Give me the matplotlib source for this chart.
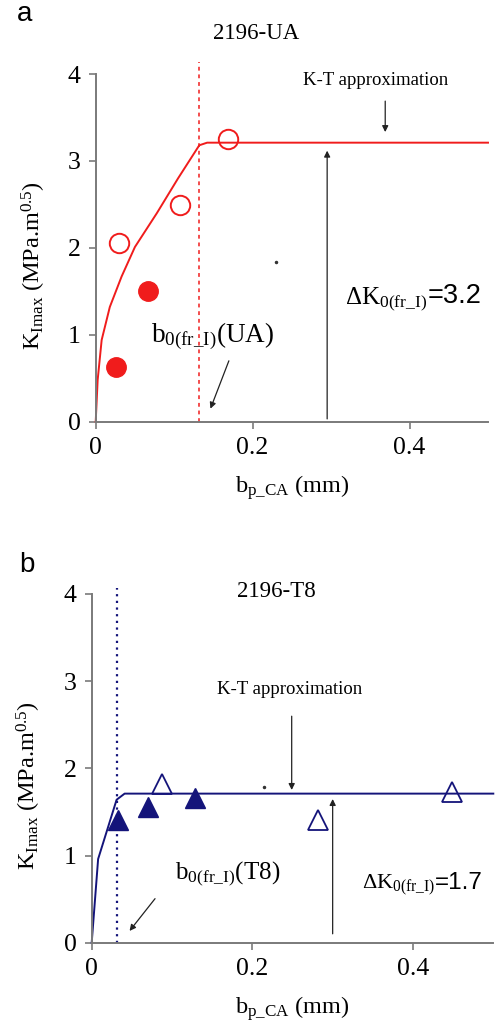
import matplotlib
matplotlib.use("Agg")
import matplotlib.pyplot as plt

plt.rcParams['font.family'] = ['Liberation Serif', 'DejaVu Serif']
plt.rcParams['mathtext.fontset'] = 'custom'
plt.rcParams['mathtext.rm'] = 'Liberation Serif'
plt.rcParams['mathtext.it'] = 'Liberation Serif:italic'
plt.rcParams['mathtext.sf'] = 'Liberation Sans'

# 2196-UA data
ua_open_x = [0.030, 0.108, 0.169]
ua_open_y = [2.05, 2.49, 3.25]
ua_fill_x = [0.026, 0.067]
ua_fill_y = [0.63, 1.50]
ua_curve_x = [0, 0.0025, 0.0076, 0.018, 0.033, 0.05, 0.078, 0.105, 0.132, 0.142, 0.5]
ua_curve_y = [0, 0.48, 0.94, 1.32, 1.67, 2.01, 2.40, 2.80, 3.18, 3.21, 3.21]
ua_b0 = 0.132
ua_dk = 3.2

# 2196-T8 data
t8_open_x = [0.088, 0.282, 0.448]
t8_open_y = [1.82, 1.41, 1.73]
t8_fill_x = [0.033, 0.070, 0.128]
t8_fill_y = [1.41, 1.56, 1.66]
t8_curve_x = [0, 0.008, 0.031, 0.041, 0.5]
t8_curve_y = [0, 0.96, 1.64, 1.71, 1.71]
t8_b0 = 0.032
t8_dk = 1.7

red = '#f01c1c'
navy = '#14147a'
spine_col = '#7a7a7a'

fig = plt.figure(figsize=(5, 10.25), dpi=100)
ax1 = fig.add_axes([0.1914, 0.5886, 0.7846, 0.3392])
ax2 = fig.add_axes([0.1834, 0.0803, 0.8032, 0.3402])


def style(ax):
    ax.set_xlim(0, 0.5)
    ax.set_ylim(0, 4)
    ax.set_xticks([0, 0.2, 0.4])
    ax.set_xticklabels(['0', '0.2', '0.4'])
    ax.set_yticks([0, 1, 2, 3, 4])
    for s in ['top', 'right']:
        ax.spines[s].set_visible(False)
    for s in ['left', 'bottom']:
        ax.spines[s].set_color(spine_col)
        ax.spines[s].set_linewidth(1.4)
    ax.tick_params(direction='out', length=5, width=1.2, color=spine_col,
                   labelsize=18.5, pad=6)
    ax.set_xlabel(r'b$_{\mathrm{p\_CA}}$ (mm)', fontsize=17.5, labelpad=10)
    ax.set_ylabel(r'K$_{\mathrm{Imax}}$ (MPa.m$^{0.5}$)', fontsize=17.5)
    ax.yaxis.set_label_coords(-0.122, 0.45)


def dk_label(ax, x, y, value, size):
    # serif Delta K with subscript, then the value in sans
    t = ax.text(x, y, r'$\Delta\mathrm{K}_{0(\mathrm{fr\_I})}$', fontsize=size,
                ha='left', va='baseline')
    ax.annotate('=%.1f' % value, xy=(1, y), xycoords=(t, 'data'),
                fontsize=size + 1.5, family='Liberation Sans',
                ha='left', va='baseline')


arrow = dict(arrowstyle='-|>', color='#222222', lw=0.9, mutation_scale=9)

# panel a
style(ax1)
ax1.plot(ua_curve_x, ua_curve_y, color=red, lw=1.4, clip_on=False)
ax1.plot([ua_b0, ua_b0], [0, 4.14], color=red, lw=1.1, ls=(0, (2.5, 2.5)), clip_on=False)
ax1.plot(ua_open_x, ua_open_y, 'o', ms=14, mfc='none', mec=red, mew=1.4, clip_on=False)
ax1.plot(ua_fill_x, ua_fill_y, 'o', ms=14, mfc=red, mec=red)
ax1.plot([0.23], [1.84], 'o', ms=1.5, color='#333333')
ax1.text(0.205, 4.47, '2196-UA', fontsize=16.5, ha='center', va='center')
ax1.annotate('', xy=(0.369, ua_dk + 0.1), xytext=(0.369, 3.72), arrowprops=arrow)
ax1.text(0.357, 3.92, 'K-T approximation', fontsize=13.5, ha='center', va='center')
ax1.annotate('', xy=(0.295, ua_dk - 0.05), xytext=(0.295, 0), arrowprops=arrow)
dk_label(ax1, 0.318, 1.36, ua_dk, 18)
ax1.text(0.071, 0.98, r'$\mathrm{b}_{0(\mathrm{fr\_I})}\mathrm{(UA)}$', fontsize=19.5,
         ha='left', va='center')
ax1.annotate('', xy=(0.145, 0.12), xytext=(0.171, 0.73), arrowprops=arrow)
fig.text(0.05, 0.986, 'a', fontsize=20, family='Liberation Sans', ha='center', va='center')

# panel b
style(ax2)
ax2.plot(t8_curve_x, t8_curve_y, color=navy, lw=1.4, clip_on=False)
ax2.plot([t8_b0, t8_b0], [0, 4.07], color=navy, lw=1.6, ls=(0, (1, 2)), clip_on=False)
ax2.plot(t8_open_x, t8_open_y, '^', ms=15, mfc='none', mec=navy, mew=1.3)
ax2.plot(t8_fill_x, t8_fill_y, '^', ms=15, mfc=navy, mec=navy)
ax2.plot([0.214], [1.79], 'o', ms=1.5, color='#333333')
ax2.text(0.23, 4.03, '2196-T8', fontsize=16.5, ha='center', va='center')
ax2.annotate('', xy=(0.249, t8_dk + 0.02), xytext=(0.249, 2.63), arrowprops=arrow)
ax2.text(0.247, 2.90, 'K-T approximation', fontsize=13.5, ha='center', va='center')
ax2.annotate('', xy=(0.30, t8_dk - 0.02), xytext=(0.30, 0.07), arrowprops=arrow)
dk_label(ax2, 0.336, 0.62, t8_dk, 16)
ax2.text(0.104, 0.79, r'$\mathrm{b}_{0(\mathrm{fr\_I})}\mathrm{(T8)}$', fontsize=18,
         ha='left', va='center')
ax2.annotate('', xy=(0.045, 0.11), xytext=(0.081, 0.53), arrowprops=arrow)
fig.text(0.053, 0.4485, 'b', fontsize=20, family='Liberation Sans', ha='center', va='center')

fig.savefig('out.png', dpi=100)
